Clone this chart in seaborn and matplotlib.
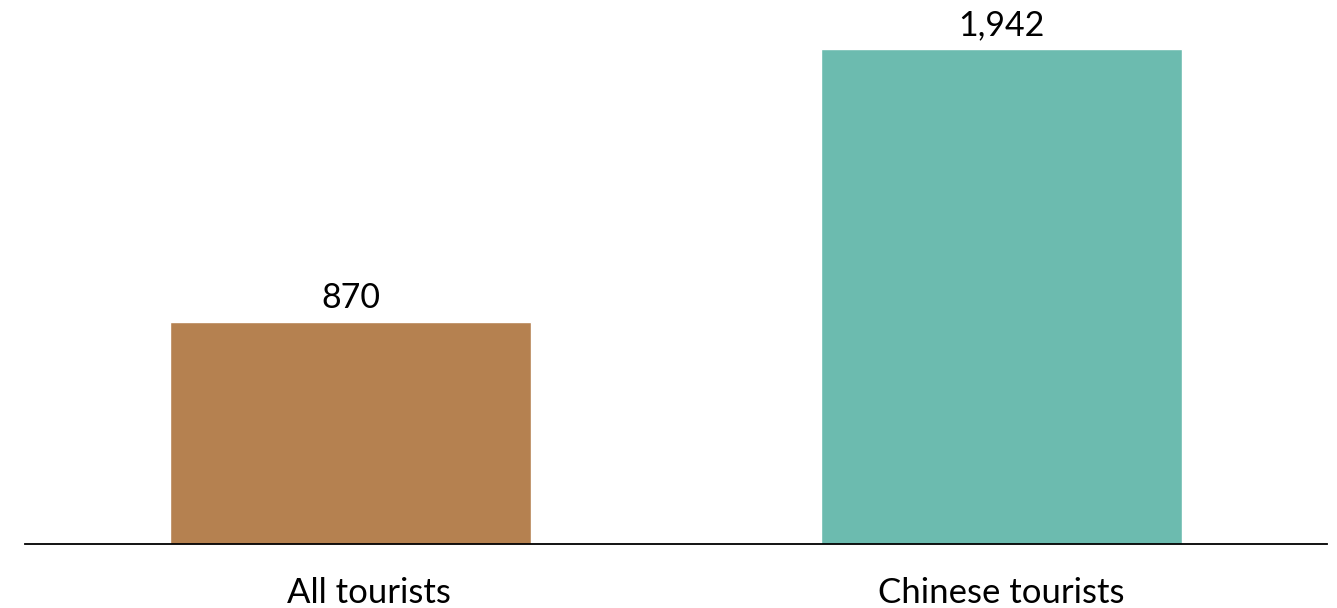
import matplotlib
matplotlib.use("Agg")
import matplotlib.pyplot as plt
import matplotlib.transforms as mtransforms
import seaborn as sns
import pandas as pd

categories = ["All tourists", "Chinese tourists"]
values = [870, 1942]
value_labels = ["870", "1,942"]
colors = ["#B58150", "#6CBBAF"]

sns.set_theme(style="white")
plt.rcParams["font.family"] = ["Lato", "DejaVu Sans"]

df = pd.DataFrame({"group": categories, "value": values})

fig = plt.figure(figsize=(13.37, 6.08), dpi=100)
ax = fig.add_axes([25 / 1337, 64 / 608, 1302 / 1337, 535 / 608])

sns.barplot(data=df, x="group", y="value", hue="group", palette=colors,
            width=0.555, saturation=1, legend=False, ax=ax)

for bar, lab in zip(ax.patches, value_labels):
    ax.annotate(lab, (bar.get_x() + bar.get_width() / 2, bar.get_height()),
                xytext=(0, 6), textcoords="offset points",
                ha="center", va="bottom", fontsize=24.5, color="black")

ax.set_xlim(-0.5, 1.5)
ax.set_ylim(0, 2100)
ax.set_xlabel("")
ax.set_ylabel("")
ax.set_yticks([])
ax.tick_params(axis="x", length=0, pad=24, labelsize=25, labelcolor="black")
for side in ["top", "right", "left"]:
    ax.spines[side].set_visible(False)
ax.spines["bottom"].set_color("black")
ax.spines["bottom"].set_linewidth(1.3)

# the first category label sits slightly right of its bar
first = ax.get_xticklabels()[0]
first.set_transform(first.get_transform() +
                    mtransforms.ScaledTranslation(0.18, 0, fig.dpi_scale_trans))

fig.savefig("out.png", dpi=100, facecolor="white")
